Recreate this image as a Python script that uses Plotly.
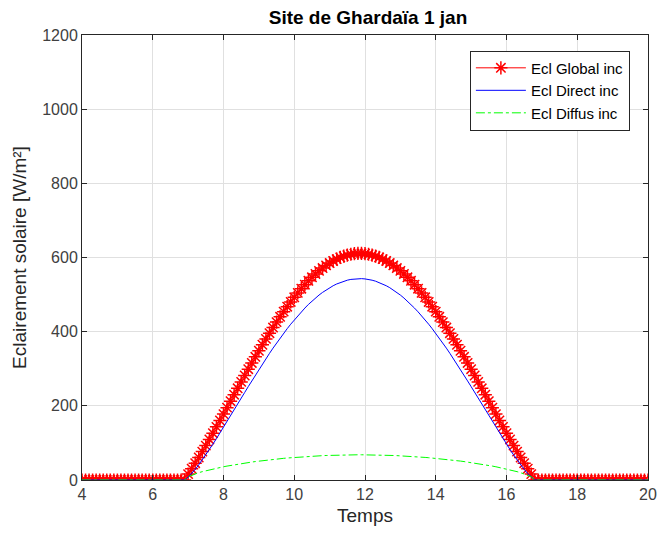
import numpy as np
import plotly.graph_objects as go

# Time grid (hours), 0.1 h step from 4 to 20
temps = [round(4 + 0.1 * i, 1) for i in range(161)]

# Values (W/m²); zero before ~6.9 h and after ~16.8 h
zeros_morning = [0] * 29   # 4.0 .. 6.8
zeros_evening = [0] * 32   # 16.9 .. 20.0

direct_day = [
    0, 7.3, 17.3, 28.7, 41.0, 54.1, 67.8, 82.0, 96.5, 111.5,
    126.6, 142.0, 157.6, 173.2, 189.0, 204.7, 220.5, 236.2, 251.8, 267.2,
    282.5, 297.6, 312.5, 327.2, 341.5, 355.6, 369.3, 382.6, 395.6, 408.0,
    420.1, 431.7, 442.9, 453.5, 463.6, 473.4, 482.4, 490.8, 498.7, 505.9,
    512.6, 518.6, 523.9, 528.6, 532.7, 536.1, 538.8, 540.9, 542.2, 543.0,
    543.0, 542.2, 540.9, 538.8, 536.1, 532.7, 528.6, 523.9, 518.6, 512.6,
    505.9, 498.7, 490.8, 482.4, 473.4, 463.6, 453.5, 442.9, 431.7, 420.1,
    408.0, 395.6, 382.6, 369.3, 355.6, 341.5, 327.2, 312.5, 297.6, 282.5,
    267.2, 251.8, 236.2, 220.5, 204.7, 189.0, 173.2, 157.6, 142.0, 126.6,
    111.5, 96.5, 82.0, 67.8, 54.1, 41.0, 28.7, 17.3, 7.3, 0,
]

diffus_day = [
    0, 8.6, 13.0, 16.6, 19.7, 22.5, 25.0, 27.4, 29.7, 31.8,
    33.8, 35.7, 37.5, 39.3, 41.0, 42.6, 44.1, 45.6, 47.0, 48.4,
    49.7, 51.0, 52.2, 53.3, 54.4, 55.5, 56.5, 57.5, 58.4, 59.3,
    60.1, 60.9, 61.7, 62.4, 63.0, 63.7, 64.2, 64.8, 65.3, 65.7,
    66.1, 66.5, 66.8, 67.1, 67.4, 67.6, 67.7, 67.9, 68.0, 68.0,
    68.0, 68.0, 67.9, 67.7, 67.6, 67.4, 67.1, 66.8, 66.5, 66.1,
    65.7, 65.3, 64.8, 64.2, 63.7, 63.0, 62.4, 61.7, 60.9, 60.1,
    59.3, 58.4, 57.5, 56.5, 55.5, 54.4, 53.3, 52.2, 51.0, 49.7,
    48.4, 47.0, 45.6, 44.1, 42.6, 41.0, 39.3, 37.5, 35.7, 33.8,
    31.8, 29.7, 27.4, 25.0, 22.5, 19.7, 16.6, 13.0, 8.6, 0,
]

global_day = [
    0, 15.9, 30.3, 45.3, 60.7, 76.6, 92.8, 109.4, 126.2, 143.3,
    160.4, 177.7, 195.1, 212.5, 230.0, 247.3, 264.6, 281.8, 298.8, 315.6,
    332.2, 348.6, 364.7, 380.5, 395.9, 411.1, 425.8, 440.1, 454.0, 467.3,
    480.2, 492.6, 504.6, 515.9, 526.6, 537.1, 546.6, 555.6, 564.0, 571.6,
    578.7, 585.1, 590.7, 595.7, 600.1, 603.7, 606.5, 608.8, 610.2, 611.0,
    611.0, 610.2, 608.8, 606.5, 603.7, 600.1, 595.7, 590.7, 585.1, 578.7,
    571.6, 564.0, 555.6, 546.6, 537.1, 526.6, 515.9, 504.6, 492.6, 480.2,
    467.3, 454.0, 440.1, 425.8, 411.1, 395.9, 380.5, 364.7, 348.6, 332.2,
    315.6, 298.8, 281.8, 264.6, 247.3, 230.0, 212.5, 195.1, 177.7, 160.4,
    143.3, 126.2, 109.4, 92.8, 76.6, 60.7, 45.3, 30.3, 15.9, 0,
]

ecl_global = zeros_morning + global_day + zeros_evening
ecl_direct = zeros_morning + direct_day + zeros_evening
ecl_diffus = zeros_morning + diffus_day + zeros_evening

x_ticks = [4, 6, 8, 10, 12, 14, 16, 18, 20]
y_ticks = [0, 200, 400, 600, 800, 1000, 1200]

FONT = "Liberation Sans, Arial, Helvetica, sans-serif"
AX = "#262626"

fig = go.Figure()
fig.add_trace(go.Scatter(
    x=temps, y=ecl_global, name="Ecl Global inc", mode="lines+markers",
    line=dict(color="red", width=1),
    marker=dict(symbol="asterisk-open", size=11, color="red",
                line=dict(color="red", width=1.5)),
))
fig.add_trace(go.Scatter(
    x=temps, y=ecl_direct, name="Ecl Direct inc", mode="lines",
    line=dict(color="blue", width=1),
))
fig.add_trace(go.Scatter(
    x=temps, y=ecl_diffus, name="Ecl Diffus inc", mode="lines",
    line=dict(color="#00ff00", width=1, dash="dashdot"),
))

axis_common = dict(
    showline=True, linecolor=AX, linewidth=1, mirror="ticks",
    ticks="inside", ticklen=5, tickcolor=AX,
    showgrid=True, gridcolor="#e0e0e0", gridwidth=1,
    zeroline=False, automargin=False,
    tickfont=dict(family=FONT, size=16, color="#404040"),
)

fig.update_layout(
    width=657, height=536, autosize=False,
    margin=dict(l=82, r=9, t=35, b=56, autoexpand=False),
    paper_bgcolor="white", plot_bgcolor="white",
    title=dict(text="<b>Site de Ghardaïa 1 jan</b>", x=368 / 657, xref="container",
               y=1 - 17 / 536, yref="container", xanchor="center", yanchor="middle",
               font=dict(family=FONT, size=19, color="black")),
    xaxis=dict(range=[4, 20], tickvals=x_ticks,
               title=dict(text="Temps", standoff=6,
                          font=dict(family=FONT, size=19, color="#262626")),
               **axis_common),
    yaxis=dict(range=[0, 1200], tickvals=y_ticks,
               title=dict(text="Eclairement solaire [W/m²]", standoff=10,
                          font=dict(family=FONT, size=19, color="#262626")),
               **axis_common),
    legend=dict(x=0.968, y=0.965, xanchor="right", yanchor="top",
                bgcolor="white", bordercolor=AX, borderwidth=1,
                font=dict(family=FONT, size=15, color="black"),
                itemwidth=50, tracegroupgap=0),
    showlegend=True,
)

fig.write_html("out.html")
